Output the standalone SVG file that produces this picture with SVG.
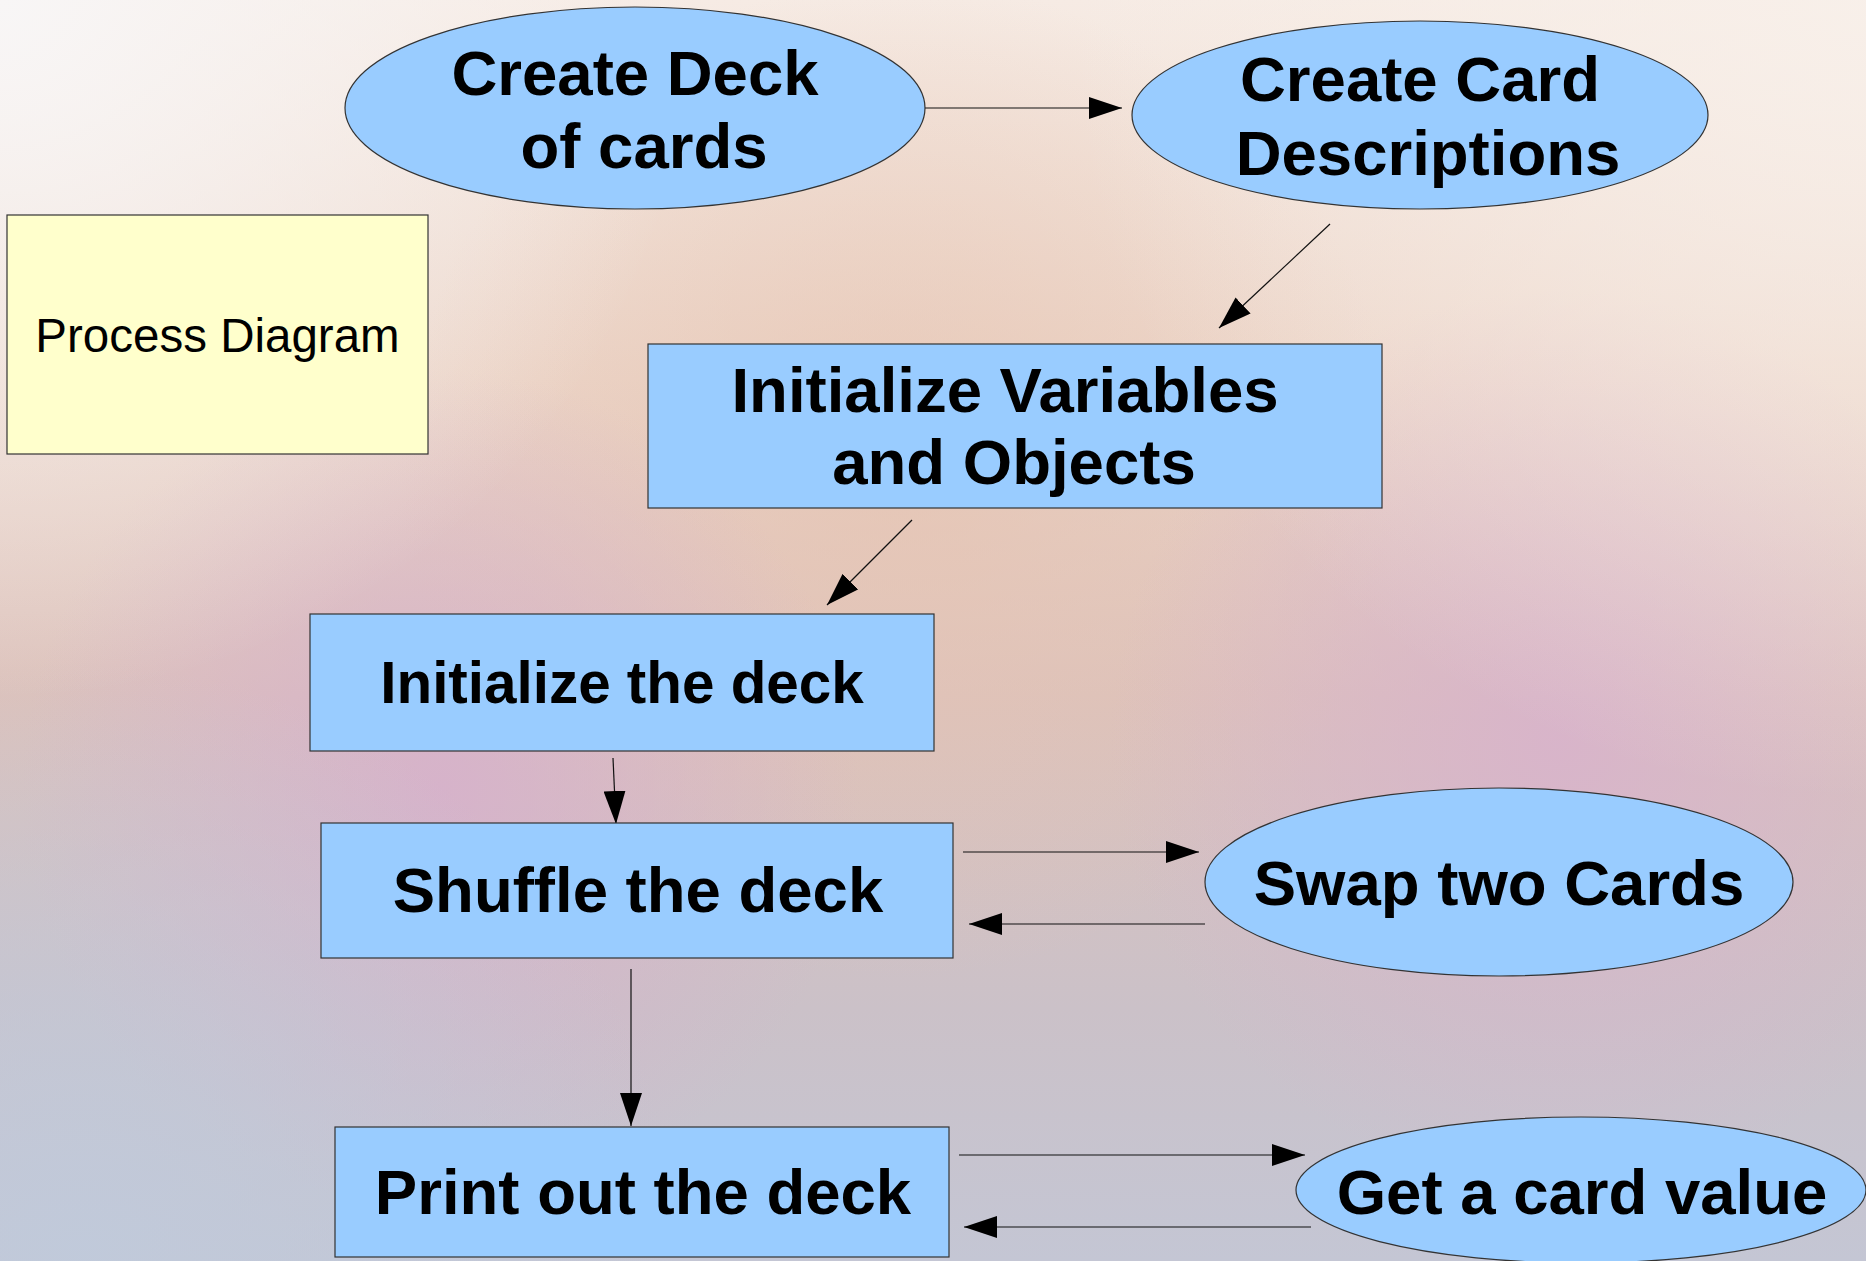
<svg xmlns="http://www.w3.org/2000/svg" width="1866" height="1261" viewBox="0 0 1866 1261">
<defs>
<linearGradient id="bg" x1="0" y1="0" x2="0" y2="1">
<stop offset="0" stop-color="#f6ebe4"/>
<stop offset="0.3" stop-color="#ecd5c8"/>
<stop offset="0.55" stop-color="#dcc2bc"/>
<stop offset="0.8" stop-color="#cbc1c8"/>
<stop offset="1" stop-color="#c4c6d4"/>
</linearGradient>
<radialGradient id="tl" cx="0" cy="0" r="700" gradientUnits="userSpaceOnUse">
<stop offset="0" stop-color="#f8f6f6" stop-opacity="1"/>
<stop offset="1" stop-color="#f8f6f6" stop-opacity="0"/>
</radialGradient>
<radialGradient id="tr" cx="1866" cy="0" r="800" gradientUnits="userSpaceOnUse">
<stop offset="0" stop-color="#f8f0ea" stop-opacity="0.9"/>
<stop offset="1" stop-color="#f8f0ea" stop-opacity="0"/>
</radialGradient>
<radialGradient id="p1" cx="440" cy="790" r="420" gradientUnits="userSpaceOnUse">
<stop offset="0" stop-color="#d6b0cc" stop-opacity="0.85"/>
<stop offset="1" stop-color="#d6b0cc" stop-opacity="0"/>
</radialGradient>
<radialGradient id="p2" cx="1560" cy="740" r="450" gradientUnits="userSpaceOnUse">
<stop offset="0" stop-color="#d8b2cc" stop-opacity="0.85"/>
<stop offset="1" stop-color="#d8b2cc" stop-opacity="0"/>
</radialGradient>
<radialGradient id="bl" cx="80" cy="1261" r="600" gradientUnits="userSpaceOnUse">
<stop offset="0" stop-color="#c0cadb" stop-opacity="0.9"/>
<stop offset="1" stop-color="#c0cadb" stop-opacity="0"/>
</radialGradient>
<radialGradient id="pe" cx="900" cy="480" r="500" gradientUnits="userSpaceOnUse">
<stop offset="0" stop-color="#e6c4b2" stop-opacity="0.7"/>
<stop offset="1" stop-color="#e6c4b2" stop-opacity="0"/>
</radialGradient>
<marker id="ah" markerUnits="userSpaceOnUse" markerWidth="34" markerHeight="22" refX="33" refY="11" orient="auto">
<path d="M0,0 L33,11 L0,22 z" fill="#000"/>
</marker>
</defs>
<style>
.shape{fill:#99ccff;stroke:#333;stroke-width:1.2}
.note{fill:#ffffcc;stroke:#333;stroke-width:1.2}
.t{font-family:"Liberation Sans",Arial,sans-serif;font-weight:bold;font-size:63.5px;fill:#000;text-anchor:middle}
.n{font-family:"Liberation Sans",Arial,sans-serif;font-size:47.5px;fill:#000;text-anchor:middle}
.c{stroke:#111;stroke-width:1.2;fill:none;marker-end:url(#ah)}
</style>
<rect width="1866" height="1261" fill="url(#bg)"/>
<rect width="1866" height="1261" fill="url(#pe)"/>
<rect width="1866" height="1261" fill="url(#p1)"/>
<rect width="1866" height="1261" fill="url(#p2)"/>
<rect width="1866" height="1261" fill="url(#bl)"/>
<rect width="1866" height="1261" fill="url(#tl)"/>
<rect width="1866" height="1261" fill="url(#tr)"/>

<g id="connectors">
<line class="c" x1="925" y1="108" x2="1122" y2="108"/>
<line class="c" x1="1330" y1="224" x2="1219" y2="328"/>
<line class="c" x1="912" y1="520" x2="827" y2="605"/>
<line class="c" x1="613" y1="758" x2="616" y2="824"/>
<line class="c" x1="963" y1="852" x2="1199" y2="852"/>
<line class="c" x1="1205" y1="924" x2="969" y2="924"/>
<line class="c" x1="631" y1="969" x2="631" y2="1126"/>
<line class="c" x1="959" y1="1155" x2="1305" y2="1155"/>
<line class="c" x1="1311" y1="1227" x2="964" y2="1227"/>
</g>

<g id="note">
<rect class="note" x="7" y="215" width="421" height="239"/>
<text class="n" x="217.5" y="352">Process Diagram</text>
</g>

<g id="create-deck">
<ellipse class="shape" cx="635" cy="108" rx="290" ry="101"/>
<text class="t" x="635" y="95">Create Deck</text>
<text class="t" x="644" y="168">of cards</text>
</g>

<g id="create-card-descriptions">
<ellipse class="shape" cx="1420" cy="115" rx="288" ry="94"/>
<text class="t" x="1420" y="101">Create Card</text>
<text class="t" x="1428" y="175">Descriptions</text>
</g>

<g id="init-variables">
<rect class="shape" x="648" y="344" width="734" height="164"/>
<text class="t" x="1005" y="412">Initialize Variables</text>
<text class="t" x="1014" y="484">and Objects</text>
</g>

<g id="init-deck">
<rect class="shape" x="310" y="614" width="624" height="137"/>
<text class="t" x="622" y="703" style="font-size:58.4px">Initialize the deck</text>
</g>

<g id="shuffle">
<rect class="shape" x="321" y="823" width="632" height="135"/>
<text class="t" x="638" y="912">Shuffle the deck</text>
</g>

<g id="swap">
<ellipse class="shape" cx="1499" cy="882" rx="294" ry="94"/>
<text class="t" x="1499" y="905">Swap two Cards</text>
</g>

<g id="print">
<rect class="shape" x="335" y="1127" width="614" height="130"/>
<text class="t" x="643" y="1214">Print out the deck</text>
</g>

<g id="get-value">
<ellipse class="shape" cx="1581" cy="1190" rx="285" ry="73"/>
<text class="t" x="1582" y="1214">Get a card value</text>
</g>
</svg>
